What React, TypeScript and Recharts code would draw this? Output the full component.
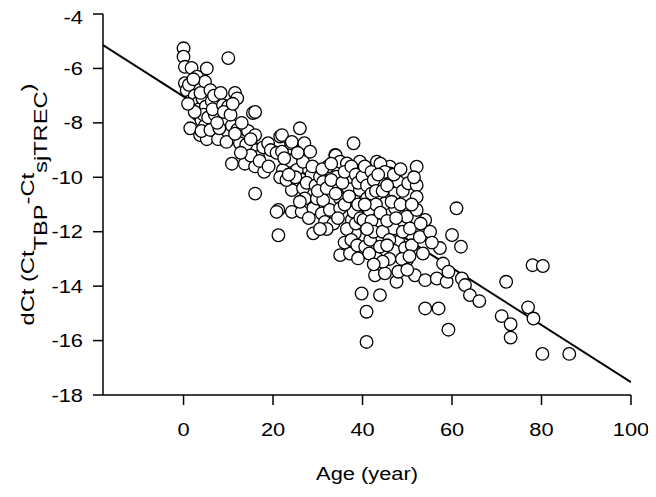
import React from "react";
import { ScatterChart, Scatter, XAxis, YAxis } from "recharts";

// Age (year) vs dCt readings, grouped by age band
const band0to5: [number, number][] = [
  [0, -5.26], [0, -5.57], [0.3, -5.94], [0.3, -6.54], [0.7, -6.8], [1.5, -7.2], [1.8, -5.98],
  [1.2, -6.6], [1.5, -8.2], [2, -7.35], [2.5, -7.0], [3, -6.3], [3.2, -7.27], [3.2, -7.7],
  [3.7, -8.45], [3.5, -7.5], [4, -7.9], [4.2, -7.1], [4.8, -6.49], [4.8, -8.1], [5.2, -6.0],
  [5.2, -8.6], [5, -7.4], [4.5, -7.7], [2.5, -7.6], [1, -7.3], [3.8, -6.9], [2.2, -6.4],
  [5.5, -7.8], [4, -8.3],
];
const band6to12: [number, number][] = [
  [6, -6.8], [6.3, -7.2], [6, -8.26], [7, -7.7], [6.5, -7.5], [7.7, -8.6], [8.8, -7.35],
  [8.8, -7.9], [9.6, -8.7], [10, -5.62], [10, -7.4], [10.8, -8.1], [10.8, -9.5], [11.5, -6.9],
  [12, -7.1], [12, -8.26], [12.6, -8.75], [8, -8.2], [9, -7.6], [7.5, -8.0], [10.5, -7.7],
  [11, -7.3], [11.5, -8.4], [6.8, -7.0], [8.3, -6.9],
];
const band13to20: [number, number][] = [
  [13.7, -9.0], [13.7, -9.5], [14.4, -8.3], [15.5, -7.64], [16, -7.6], [16, -8.45], [16, -9.0],
  [16, -9.6], [16.7, -9.25], [16, -10.6], [17.8, -8.9], [18, -9.8], [18.9, -8.75], [14, -8.8],
  [15, -9.2], [17, -9.4], [19, -9.6], [19.5, -9.0], [13, -8.0], [12.8, -9.1], [15, -8.6],
];
const band20to30: [number, number][] = [
  [20.8, -9.1], [21.6, -8.5], [22, -8.45], [22, -9.06], [22.2, -9.73], [21.2, -11.2],
  [20.8, -11.27], [21.2, -12.13], [21.6, -10.0], [23.8, -9.37], [24, -8.75], [24, -9.4],
  [24.2, -8.7], [24.2, -10.47], [24.2, -11.27], [25.3, -9.73], [26, -8.2], [26.4, -11.27],
  [26.7, -9.43], [26.7, -10.4], [27, -8.75], [27.1, -10.78], [28.3, -9.06], [28.6, -9.92],
  [29, -11.14], [29, -12.06], [29.8, -10.78], [23, -10.1], [25, -10.0], [27.5, -10.2],
  [28, -11.5], [22.5, -9.3], [23.5, -9.9], [25.5, -9.1], [26, -10.9], [28.8, -9.6], [29.5, -10.3],
];
const band30to40: [number, number][] = [
  [30.5, -9.98], [31.2, -10.17], [31.2, -10.84], [30.9, -11.33], [31.6, -11.64], [32.3, -9.6],
  [32.7, -11.2], [33.5, -11.7], [33.9, -9.18], [34, -9.2], [34.2, -9.98], [35, -9.43],
  [35, -10.78], [35, -11.14], [35, -12.86], [36.5, -9.49], [36.8, -10.4], [37.2, -9.98],
  [37.2, -12.8], [37.6, -11.57], [38, -8.75], [38, -10.78], [38, -11.27], [38.3, -12.06],
  [39, -12.98], [39.4, -9.43], [39.4, -10.47], [39.8, -14.27], [30, -10.5], [31, -9.7],
  [32, -10.4], [33, -10.1], [34, -10.6], [34.5, -11.5], [35.5, -10.2], [36, -9.8], [36, -11.0],
  [36.5, -11.9], [37, -10.7], [37.5, -9.6], [38.5, -9.9], [38.5, -11.7], [39, -10.2], [39, -11.0],
  [39.5, -11.5], [36, -12.4], [33, -9.5], [32, -11.9], [30.5, -11.9], [37.5, -12.3], [38.8, -12.5],
];
const band40to50: [number, number][] = [
  [40, -9.98], [40.2, -11.57], [40.6, -12.55], [40.9, -14.94], [40.9, -16.05], [41, -10.78],
  [41.7, -12.3], [42.8, -13.6], [43.2, -9.43], [43.2, -12.98], [43.5, -11.76], [43.9, -10.17],
  [43.9, -12.55], [43.9, -14.33], [45, -10.96], [45, -13.53], [46.1, -9.61], [46.1, -9.86],
  [46.9, -11.88], [47.3, -10.59], [47.3, -11.14], [47.6, -13.84], [48, -10.17], [48, -12.37],
  [48, -13.47], [49.9, -11.45], [49.9, -13.04], [40.5, -9.6], [41, -10.3], [41.5, -11.2],
  [42, -9.8], [42, -10.6], [42, -11.6], [42.5, -10.1], [42.5, -12.0], [43, -11.0], [43, -10.5],
  [44, -9.5], [44, -11.3], [44.5, -10.5], [44.5, -12.0], [45, -9.8], [45.5, -11.6], [45.5, -10.3],
  [46, -12.3], [46.5, -10.9], [47, -9.9], [47, -12.7], [48.5, -11.0], [48.5, -9.7], [49, -10.5],
  [49, -12.0], [49.5, -12.6], [46, -13.0], [44.5, -13.1], [41.5, -12.8], [42.5, -13.2],
  [40.5, -11.0], [41, -11.9], [43.5, -9.9], [45.5, -12.5], [47.5, -11.5], [48.8, -13.0],
];
const band50to60: [number, number][] = [
  [50.2, -10.22], [50.6, -11.88], [51, -12.5], [51.7, -13.6], [52.1, -9.61], [52.1, -10.29],
  [52.1, -10.72], [52.1, -11.2], [52.8, -12.19], [54, -11.57], [54, -13.78], [54, -14.82],
  [55.1, -12.0], [56.6, -13.72], [57, -14.82], [57.3, -12.6], [58, -13.17], [58.8, -13.84],
  [59.2, -13.47], [59.2, -15.6], [50.5, -12.9], [51, -11.0], [53, -11.7], [53.5, -12.8],
  [50, -13.4], [51.5, -10.0], [55.5, -12.4],
];
const band60plus: [number, number][] = [
  [60, -12.12], [61, -11.14], [62, -12.55], [62.2, -13.72], [62.9, -13.96], [64, -14.33],
  [66.1, -14.55], [72.1, -13.84], [71.1, -15.1], [73.1, -15.4], [73.1, -15.89], [77, -14.78],
  [78.2, -15.19], [78, -13.23], [80.3, -13.26], [80.2, -16.49], [86.2, -16.49],
];

// Regression line endpoints (age, dCt)
const fitLine = [
  { x: -18, y: -5.14 },
  { x: 100, y: -17.53 },
];

const xDomain: [number, number] = [-18, 100];
const yDomain: [number, number] = [-18, -4];
const xTicks = [0, 20, 40, 60, 80, 100];
const yTicks = [-18, -16, -14, -12, -10, -8, -6, -4];

const points = [
  ...band0to5, ...band6to12, ...band13to20, ...band20to30,
  ...band30to40, ...band40to50, ...band50to60, ...band60plus,
].map(([x, y]) => ({ x, y }));

const FONT = "'Liberation Sans', Arial, Helvetica, sans-serif";
const FS = 18.5;
const SX = 1.18;
const SX_LABEL = 1.28;

const XTick = (props: any) => {
  const { x, y, payload } = props;
  return (
    <text transform={`translate(${x},${y}) scale(${SX},1)`} textAnchor="middle" dy="0.71em"
      fontSize={FS} fontFamily={FONT} fill="#000">{payload.value}</text>
  );
};
const YTick = (props: any) => {
  const { x, y, payload } = props;
  return (
    <text transform={`translate(${x},${y}) scale(${SX},1)`} textAnchor="end" dy="0.355em"
      fontSize={FS} fontFamily={FONT} fill="#000">{payload.value}</text>
  );
};

const XLabel = (props: any) => {
  const vb = props.viewBox || {};
  const cx = vb.x + vb.width / 2;
  const y = vb.y + 85;
  return (
    <text transform={`translate(${cx},${y}) scale(${SX},1)`} textAnchor="middle"
      fontSize={FS} fontFamily={FONT} fill="#000">Age (year)</text>
  );
};

const YLabel = (props: any) => {
  const vb = props.viewBox || {};
  const cy = vb.y + vb.height / 2;
  const bx = 26;
  return (
    <text transform={`translate(${bx},${cy}) rotate(-90) scale(${SX_LABEL},1)`} textAnchor="middle"
      fontSize={FS} fontFamily={FONT} fill="#000">
      dCt (Ct<tspan dy={13}>TBP</tspan>
      <tspan dy={-13}>-Ct</tspan>
      <tspan dy={13}>sjTREC</tspan>
      <tspan dy={-13}>)</tspan>
    </text>
  );
};

const Dot = (props: any) => (
  <circle cx={props.cx} cy={props.cy} r={6.3} fill="#fff" stroke="#000" strokeWidth={1.3} />
);
const NoDot = () => <g />;

export default function App() {
  const axisStroke = { stroke: "#000", strokeWidth: 1.5 };
  return (
    <ScatterChart width={648} height={489} margin={{ top: 6, right: 25, bottom: 0, left: 0 }}>
      <XAxis type="number" dataKey="x" domain={xDomain} ticks={xTicks} allowDataOverflow
        height={102} tickSize={10} tickMargin={18} tick={<XTick />}
        axisLine={axisStroke} tickLine={axisStroke} label={<XLabel />} />
      <XAxis xAxisId="top" orientation="top" type="number" dataKey="x" domain={xDomain}
        allowDataOverflow height={0} tick={false} tickLine={false} axisLine={axisStroke} />
      <YAxis type="number" dataKey="y" domain={yDomain} ticks={yTicks} allowDataOverflow
        width={95} tickSize={10} tickMargin={10} tick={<YTick />}
        axisLine={axisStroke} tickLine={axisStroke} label={<YLabel />} />
      <YAxis yAxisId="right" orientation="right" type="number" dataKey="y" domain={yDomain}
        allowDataOverflow width={0} tick={false} tickLine={false} axisLine={axisStroke} />
      <Scatter data={fitLine} line={{ stroke: "#000", strokeWidth: 2 }} shape={<NoDot />}
        isAnimationActive={false} />
      <Scatter data={points} shape={<Dot />} isAnimationActive={false} />
    </ScatterChart>
  );
}
